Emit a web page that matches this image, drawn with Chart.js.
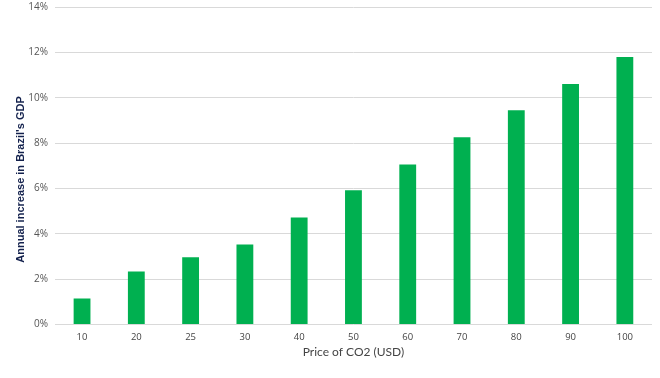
<!DOCTYPE html>
<html>
<head>
<meta charset="utf-8">
<script src="https://cdn.jsdelivr.net/npm/chart.js@4"></script>
<style>
  html, body { margin: 0; padding: 0; background: #fff; }
  #wrap { width: 660px; height: 378px; }
</style>
</head>
<body>
<div id="wrap"><canvas id="chart"></canvas></div>
<script>
const co2Prices = ['10', '20', '25', '30', '40', '50', '60', '70', '80', '90', '100'];
const gdpIncrease = [1.15, 2.34, 2.96, 3.53, 4.72, 5.92, 7.06, 8.26, 9.45, 10.6, 11.79];

const ctx = document.getElementById('chart').getContext('2d');
new Chart(ctx, {
  type: 'bar',
  data: {
    labels: co2Prices,
    datasets: [{
      label: 'Annual increase in Brazil\'s GDP',
      data: gdpIncrease,
      backgroundColor: '#00b050',
      borderWidth: 0,
      barPercentage: 0.62,
      categoryPercentage: 0.5
    }]
  },
  options: {
    responsive: true,
    maintainAspectRatio: false,
    animation: false,
    layout: { padding: { top: 0, right: 8, bottom: 20, left: 8 } },
    plugins: {
      legend: { display: false },
      tooltip: { enabled: false }
    },
    scales: {
      x: {
        grid: { display: false, drawTicks: false },
        border: { display: false },
        ticks: { color: '#444', font: { family: 'Open Sans', size: 9.5, lineHeight: 1 }, padding: 8 },
        title: {
          display: true,
          text: 'Price of CO2 (USD)',
          color: '#444',
          font: { family: 'Lato', size: 12, lineHeight: 1 },
          padding: { top: -4, bottom: 0 }
        }
      },
      y: {
        min: 0,
        max: 14,
        // tick marks kept invisible, only used as a gap between labels and plot
        grid: { color: '#d9d9d9', drawTicks: true, tickLength: 6, tickColor: 'rgba(0,0,0,0)' },
        border: { display: false },
        ticks: {
          stepSize: 2,
          color: '#555',
          font: { family: 'Open Sans', size: 10 },
          padding: 1,
          callback: v => v + '%'
        },
        title: {
          display: true,
          // trailing spaces nudge the rotated title a bit lower, as in the original
          text: 'Annual increase in Brazil\'s GDP' + ' '.repeat(9),
          color: '#13214d',
          font: { family: 'Liberation Sans', size: 11, weight: 'bold' },
          padding: { top: 6, bottom: 0 }
        }
      }
    }
  }
});
</script>
</body>
</html>
